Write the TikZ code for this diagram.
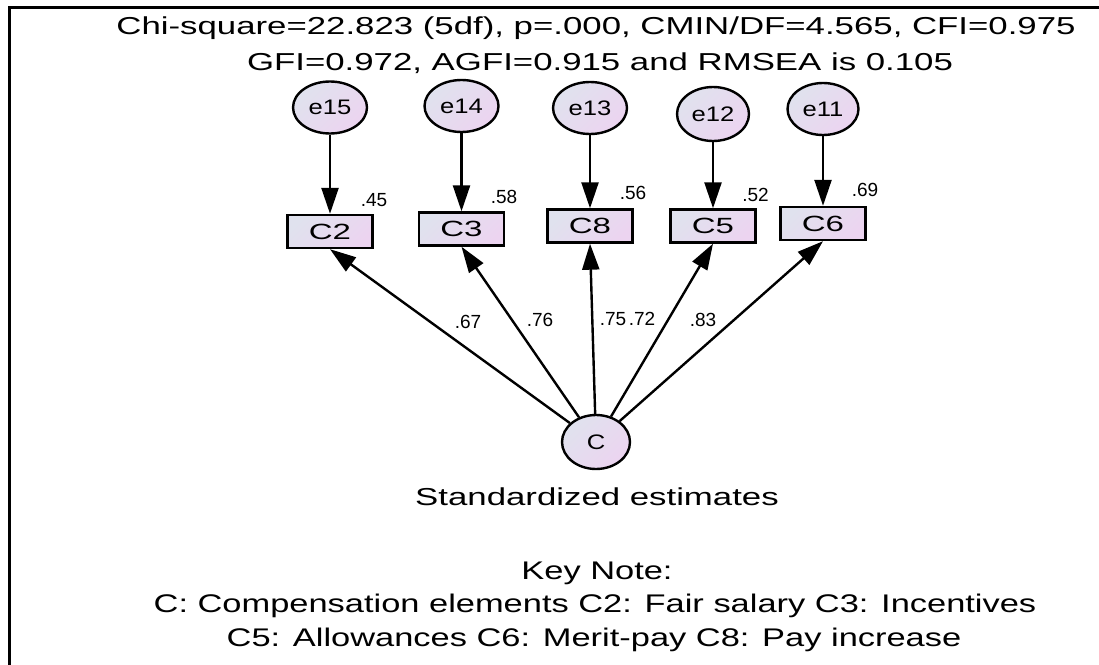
\documentclass[tikz,border=0pt]{standalone}
\usepackage{fontspec}
\setmainfont{Liberation Sans}
\newfontfamily\titlefont[FakeStretch=1.42]{Liberation Sans}
\newfontfamily\notefont[FakeStretch=1.35]{Liberation Sans}
\newfontfamily\boxfont[FakeStretch=1.5]{Liberation Sans}
\newfontfamily\errfont[FakeStretch=1.22]{Liberation Sans}
\usetikzlibrary{arrows.meta,shapes.geometric}
\definecolor{gA}{RGB}{224,226,238}
\definecolor{gB}{RGB}{236,212,240}
\tikzset{
  latent/.style={ellipse, draw, line width=2.4pt, minimum width=74pt, minimum height=52pt,
    inner sep=0pt, top color=gA, bottom color=gB, shading angle=45,
    font=\errfont\fontsize{21}{21}\selectfont},
  observed/.style={rectangle, draw, line width=2.4pt, minimum width=85pt, minimum height=33pt,
    inner sep=0pt, top color=gA, bottom color=gB, shading angle=45,
    font=\boxfont\fontsize{22}{22}\selectfont},
  regpath/.style={line width=2.4pt, -{Triangle[length=26pt,width=17pt]}},
  est/.style={inner sep=0pt, font=\fontsize{19}{19}\selectfont},
  titletext/.style={inner sep=0pt, anchor=base, font=\titlefont\fontsize{24.5}{24.5}\selectfont},
  notetext/.style={inner sep=0pt, anchor=base, font=\notefont\fontsize{25.5}{25.5}\selectfont}
}
\begin{document}
\begin{tikzpicture}[x=1pt,y=-1pt]
\useasboundingbox (0,0) rectangle (1099,664);
% frame
\coordinate (frTR) at (1100,7.5);
\coordinate (frTL) at (9.5,7.5);
\coordinate (frBL) at (9.5,665);
\draw[line width=3pt] (frTR) -- (frTL) -- (frBL);

% fit statistics
\node[titletext] (fit1) at (596,34) {Chi-square=22.823 (5df), p=.000, CMIN/DF=4.565, CFI=0.975};
\node[titletext] (fit2) at (600,70) {GFI=0.972, AGFI=0.915 and RMSEA is 0.105};

% error terms
\node[latent] (e15) at (330,107.5) {e15};
\node[latent] (e14) at (461.5,106) {e14};
\node[latent] (e13) at (590,108) {e13};
\node[latent, minimum width=72pt, minimum height=54pt] (e12) at (713,114) {e12};
\node[latent, minimum width=71pt] (e11) at (823,109) {e11};

% indicators
\node[observed] (C2) at (330,231.5) {C2};
\node[observed] (C3) at (461.5,229) {C3};
\node[observed] (C8) at (590,226) {C8};
\node[observed] (C5) at (713,226) {C5};
\node[observed] (C6) at (823,223.5) {C6};

% factor
\node[latent, minimum width=68pt, minimum height=54pt] (C) at (596,442) {C};

% error paths
\draw[regpath] (e15) -- (C2);
\draw[regpath] (e14) -- (C3);
\draw[regpath] (e13) -- (C8);
\draw[regpath] (e12) -- (C5);
\draw[regpath] (e11) -- (C6);

% loadings
\draw[regpath] (C) -- (C2.south);
\draw[regpath] (C) -- (C3.south);
\draw[regpath] (C) -- (C8.south);
\draw[regpath] (C) -- (C5.south);
\draw[regpath] (C) -- (C6.south);

% squared multiple correlations
\node[est] (r2) at (374,200) {.45};
\node[est] (r3) at (504,197) {.58};
\node[est] (r8) at (633,193) {.56};
\node[est] (r5) at (755.5,194.5) {.52};
\node[est] (r6) at (865,190) {.69};

% standardized loadings
\node[est] (l2) at (468,322) {.67};
\node[est] (l3) at (540,320) {.76};
\node[est] (l8) at (613,319) {.75};
\node[est] (l5) at (642,319) {.72};
\node[est] (l6) at (703,320) {.83};

\node[titletext] (std) at (597,505) {Standardized estimates};

% key
\node[notetext] (key0) at (597,579) {Key Note:};
\node[notetext] (key1) at (595,612) {C: Compensation elements C2: Fair salary C3: Incentives};
\node[notetext] (key2) at (594,646) {C5: Allowances C6: Merit-pay C8: Pay increase};
\end{tikzpicture}
\end{document}
